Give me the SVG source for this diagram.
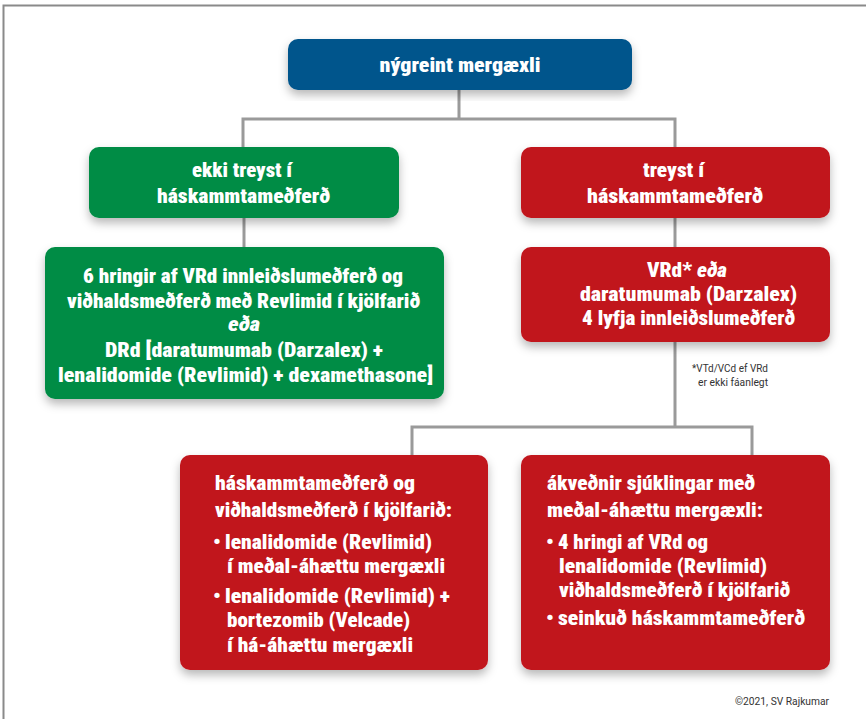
<svg xmlns="http://www.w3.org/2000/svg" width="866" height="719" viewBox="0 0 866 719">
<defs>
<filter id="sh" x="-10%" y="-10%" width="120%" height="130%">
<feDropShadow dx="0" dy="5" stdDeviation="5" flood-color="#000" flood-opacity="0.28"/>
</filter>
<style>
.t{font-family:"Liberation Sans Narrow","Roboto Condensed","DejaVu Sans Condensed","Roboto","Liberation Sans",sans-serif;font-weight:900;font-size:21px;fill:#fff}
.c{text-anchor:middle}
.s{font-family:"Liberation Sans Narrow","Roboto","Liberation Sans",sans-serif;font-size:11px;fill:#333}
.blue{fill:#00558c}
.green{fill:#008c45}
.red{fill:#c1151e}
.ln{stroke:#9a9a9a;stroke-width:3;fill:none}
</style>
</defs>
<rect x="3.5" y="5.5" width="900" height="800" fill="#fff" stroke="#8a8a8a" stroke-width="2"/>
<g id="connectors">
<path class="ln" d="M459 90V119M243 147V119H675V147"/>
<path class="ln" d="M244 218V247"/>
<path class="ln" d="M675 218V247"/>
<path class="ln" d="M675 342V427M412 456V427H752V456"/>
</g>
<g id="n-top">
<rect class="blue" x="288" y="39" width="344" height="51" rx="10" filter="url(#sh)"/>
<text class="t c" x="460" y="72" textLength="161" lengthAdjust="spacingAndGlyphs">nýgreint mergæxli</text>
</g>
<g id="n-green1">
<rect class="green" x="89" y="147" width="310" height="71" rx="10" filter="url(#sh)"/>
<text class="t c" x="242" y="177" textLength="100" lengthAdjust="spacingAndGlyphs">ekki treyst í</text>
<text class="t c" x="243.5" y="203" textLength="173" lengthAdjust="spacingAndGlyphs">háskammtameðferð</text>
</g>
<g id="n-green2">
<rect class="green" x="45" y="247" width="399" height="152" rx="10" filter="url(#sh)"/>
<text class="t c" x="243" y="283" textLength="320" lengthAdjust="spacingAndGlyphs">6 hringir af VRd innleiðslumeðferð og</text>
<text class="t c" x="243.5" y="308" textLength="353" lengthAdjust="spacingAndGlyphs">viðhaldsmeðferð með Revlimid í kjölfarið</text>
<text class="t c" x="244" y="331" font-style="italic" textLength="32" lengthAdjust="spacingAndGlyphs">eða</text>
<text class="t c" x="244" y="357" textLength="278" lengthAdjust="spacingAndGlyphs">DRd [daratumumab (Darzalex) +</text>
<text class="t c" x="245.5" y="382" textLength="375" lengthAdjust="spacingAndGlyphs">lenalidomide (Revlimid) + dexamethasone]</text>
</g>
<g id="n-red1">
<rect class="red" x="521" y="147" width="309" height="71" rx="10" filter="url(#sh)"/>
<text class="t c" x="673.5" y="177" textLength="61" lengthAdjust="spacingAndGlyphs">treyst í</text>
<text class="t c" x="675" y="203" textLength="176" lengthAdjust="spacingAndGlyphs">háskammtameðferð</text>
</g>
<g id="n-red2">
<rect class="red" x="521" y="247" width="309" height="95" rx="10" filter="url(#sh)"/>
<text class="t c" x="687" y="277" textLength="80" lengthAdjust="spacingAndGlyphs">VRd* <tspan font-style="italic">eða</tspan></text>
<text class="t c" x="688.5" y="301" textLength="217" lengthAdjust="spacingAndGlyphs">daratumumab (Darzalex)</text>
<text class="t c" x="688.5" y="325" textLength="213" lengthAdjust="spacingAndGlyphs">4 lyfja innleiðslumeðferð</text>
</g>
<g id="footnote">
<text class="s c" x="730" y="372" textLength="76" lengthAdjust="spacingAndGlyphs">*VTd/VCd ef VRd</text>
<text class="s c" x="733" y="386" textLength="70" lengthAdjust="spacingAndGlyphs">er ekki fáanlegt</text>
</g>
<g id="n-red3">
<rect class="red" x="180" y="455" width="308" height="215" rx="10" filter="url(#sh)"/>
<text class="t" x="215" y="490" textLength="200" lengthAdjust="spacingAndGlyphs">háskammtameðferð og</text>
<text class="t" x="215" y="517" textLength="237" lengthAdjust="spacingAndGlyphs">viðhaldsmeðferð í kjölfarið:</text>
<text class="t" x="213" y="549">•</text>
<text class="t" x="225" y="549" textLength="207" lengthAdjust="spacingAndGlyphs">lenalidomide (Revlimid)</text>
<text class="t" x="227" y="573" textLength="218" lengthAdjust="spacingAndGlyphs">í meðal-áhættu mergæxli</text>
<text class="t" x="213" y="603">•</text>
<text class="t" x="225" y="603" textLength="225" lengthAdjust="spacingAndGlyphs">lenalidomide (Revlimid) +</text>
<text class="t" x="227" y="627" textLength="183" lengthAdjust="spacingAndGlyphs">bortezomib (Velcade)</text>
<text class="t" x="227" y="652" textLength="186" lengthAdjust="spacingAndGlyphs">í há-áhættu mergæxli</text>
</g>
<g id="n-red4">
<rect class="red" x="521" y="455" width="309" height="215" rx="10" filter="url(#sh)"/>
<text class="t" x="547" y="490" textLength="208" lengthAdjust="spacingAndGlyphs">ákveðnir sjúklingar með</text>
<text class="t" x="547" y="517" textLength="216" lengthAdjust="spacingAndGlyphs">meðal-áhættu mergæxli:</text>
<text class="t" x="546" y="549">•</text>
<text class="t" x="558" y="549" textLength="150" lengthAdjust="spacingAndGlyphs">4 hringi af VRd og</text>
<text class="t" x="559" y="573" textLength="208" lengthAdjust="spacingAndGlyphs">lenalidomide (Revlimid)</text>
<text class="t" x="559" y="597" textLength="231" lengthAdjust="spacingAndGlyphs">viðhaldsmeðferð í kjölfarið</text>
<text class="t" x="546" y="625">•</text>
<text class="t" x="558" y="625" textLength="247" lengthAdjust="spacingAndGlyphs">seinkuð háskammtameðferð</text>
</g>
<g id="copyright">
<text class="s" x="735" y="705" textLength="94" lengthAdjust="spacingAndGlyphs">©2021, SV Rajkumar</text>
</g>
</svg>
